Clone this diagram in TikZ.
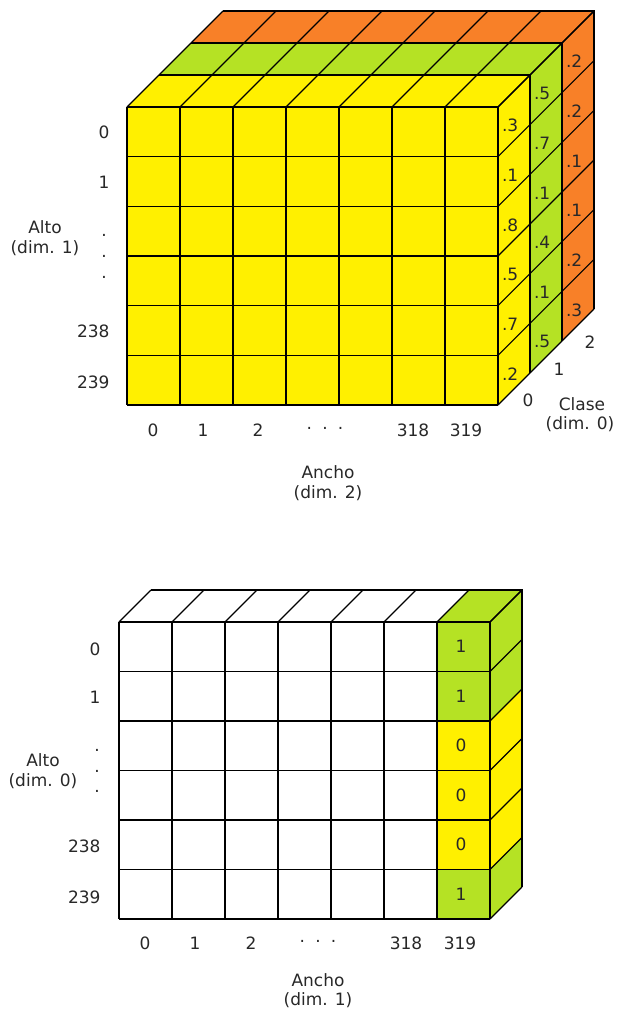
\documentclass[tikz,border=0pt]{standalone}
\usepackage{fontspec}
\setmainfont{DejaVu Sans}
\definecolor{cyel}{RGB}{255,240,0}
\definecolor{cgrn}{RGB}{181,226,36}
\definecolor{corg}{RGB}{248,128,40}
\definecolor{ctxt}{RGB}{40,40,40}
\begin{document}
\begin{tikzpicture}[x=1pt,y=-1pt,line width=1.1pt,line join=miter,
  lbl/.style={font=\fontsize{17}{19}\selectfont,text=ctxt,inner sep=0pt},
  sidelbl/.style={lbl,anchor=west},
  dotlbl/.style={lbl}]
\fill[white] (0,0) rectangle (617,1012);
\useasboundingbox (0,0) rectangle (617,1012);

% ---------- top: three class layers ----------
\foreach \L/\col/\vals in {2/corg/{.2,.2,.1,.1,.2,.3},1/cgrn/{.5,.7,.1,.4,.1,.5},0/cyel/{.3,.1,.8,.5,.7,.2}}{
  \begin{scope}[shift={(32*\L,-32*\L)}]
    \fill[\col] (127,107) rectangle (498,405);
    \fill[\col] (127,107) -- (159,75) -- (530,75) -- (498,107) -- cycle;
    \fill[\col] (498,107) -- (530,75) -- (530,373) -- (498,405) -- cycle;
    \foreach \i in {0,...,7}{
      \draw (127+53*\i,107) -- (127+53*\i,405);
      \draw (127+53*\i,107) -- ++(32,-32);
    }
    \foreach \j in {0,...,6}{
      \draw (127,107+49.667*\j) -- (498,107+49.667*\j);
      \draw (498,107+49.667*\j) -- ++(32,-32);
    }
    \draw (159,75) -- (530,75) -- (530,373);
    \foreach \v [count=\k from 0] in \vals{
      \node[sidelbl] (v\L\k) at (501.5,125.5+49.667*\k) {\v};
    }
  \end{scope}
}

% top labels
\node[lbl,anchor=east] (r0) at (110,132) {0};
\node[lbl,anchor=east] (r1) at (110,182) {1};
\node[lbl] (rd1) at (104,235) {.};
\node[lbl] (rd2) at (104,256) {.};
\node[lbl] (rd3) at (104,277) {.};
\node[lbl,anchor=east] (r238) at (110,331) {238};
\node[lbl,anchor=east] (r239) at (110,382) {239};
\node[lbl] (alto1) at (45,227) {Alto};
\node[lbl] (alto1d) at (45,248) {(dim. 1)};

\node[lbl] (c0) at (153,430) {0};
\node[lbl] (c1) at (203,430) {1};
\node[lbl] (c2) at (258,430) {2};
\node[lbl] (cd) at (325,428) {.\hspace{0.6em}.\hspace{0.6em}.};
\node[lbl] (c318) at (413,430) {318};
\node[lbl] (c319) at (466,430) {319};
\node[lbl] (ancho2) at (328,472) {Ancho};
\node[lbl] (ancho2d) at (328,493) {(dim. 2)};

\node[lbl] (k0) at (528,400) {0};
\node[lbl] (k1) at (559,369) {1};
\node[lbl] (k2) at (590,342) {2};
\node[lbl] (clase) at (582,404) {Clase};
\node[lbl] (clased) at (580,424) {(dim. 0)};

% ---------- bottom: label map ----------
\fill[white] (119,622) -- (151,590) -- (522,590) -- (490,622) -- cycle;
\fill[cgrn] (437,622) -- (469,590) -- (522,590) -- (490,622) -- cycle;
\foreach \c [count=\k from 0] in {cgrn,cgrn,cyel,cyel,cyel,cgrn}{
  \fill[\c] (437,622+49.5*\k) rectangle (490,622+49.5*\k+49.5);
  \fill[\c] (490,622+49.5*\k) -- ++(32,-32) -- ++(0,49.5) -- ++(-32,32) -- cycle;
}
\foreach \i in {0,...,7}{
  \draw (119+53*\i,622) -- (119+53*\i,919);
  \draw (119+53*\i,622) -- ++(32,-32);
}
\foreach \j in {0,...,6}{
  \draw (119,622+49.5*\j) -- (490,622+49.5*\j);
  \draw (490,622+49.5*\j) -- ++(32,-32);
}
\draw (151,590) -- (522,590) -- (522,887);
\foreach \v [count=\k from 0] in {1,1,0,0,0,1}{
  \node[lbl] (m\k) at (461,646.75+49.5*\k) {\v};
}

\node[lbl,anchor=east] (s0) at (101,649) {0};
\node[lbl,anchor=east] (s1) at (101,697) {1};
\node[lbl] (sd1) at (97,750) {.};
\node[lbl] (sd2) at (97,771) {.};
\node[lbl] (sd3) at (97,791) {.};
\node[lbl,anchor=east] (s238) at (101,846) {238};
\node[lbl,anchor=east] (s239) at (101,897) {239};
\node[lbl] (alto0) at (43,760) {Alto};
\node[lbl] (alto0d) at (43,781) {(dim. 0)};

\node[lbl] (d0) at (145,943) {0};
\node[lbl] (d1) at (195,943) {1};
\node[lbl] (d2) at (251,943) {2};
\node[lbl] (dd) at (318,941) {.\hspace{0.6em}.\hspace{0.6em}.};
\node[lbl] (d318) at (406,943) {318};
\node[lbl] (d319) at (460,943) {319};
\node[lbl] (ancho1) at (318,980) {Ancho};
\node[lbl] (ancho1d) at (318,1000) {(dim. 1)};
\end{tikzpicture}
\end{document}
